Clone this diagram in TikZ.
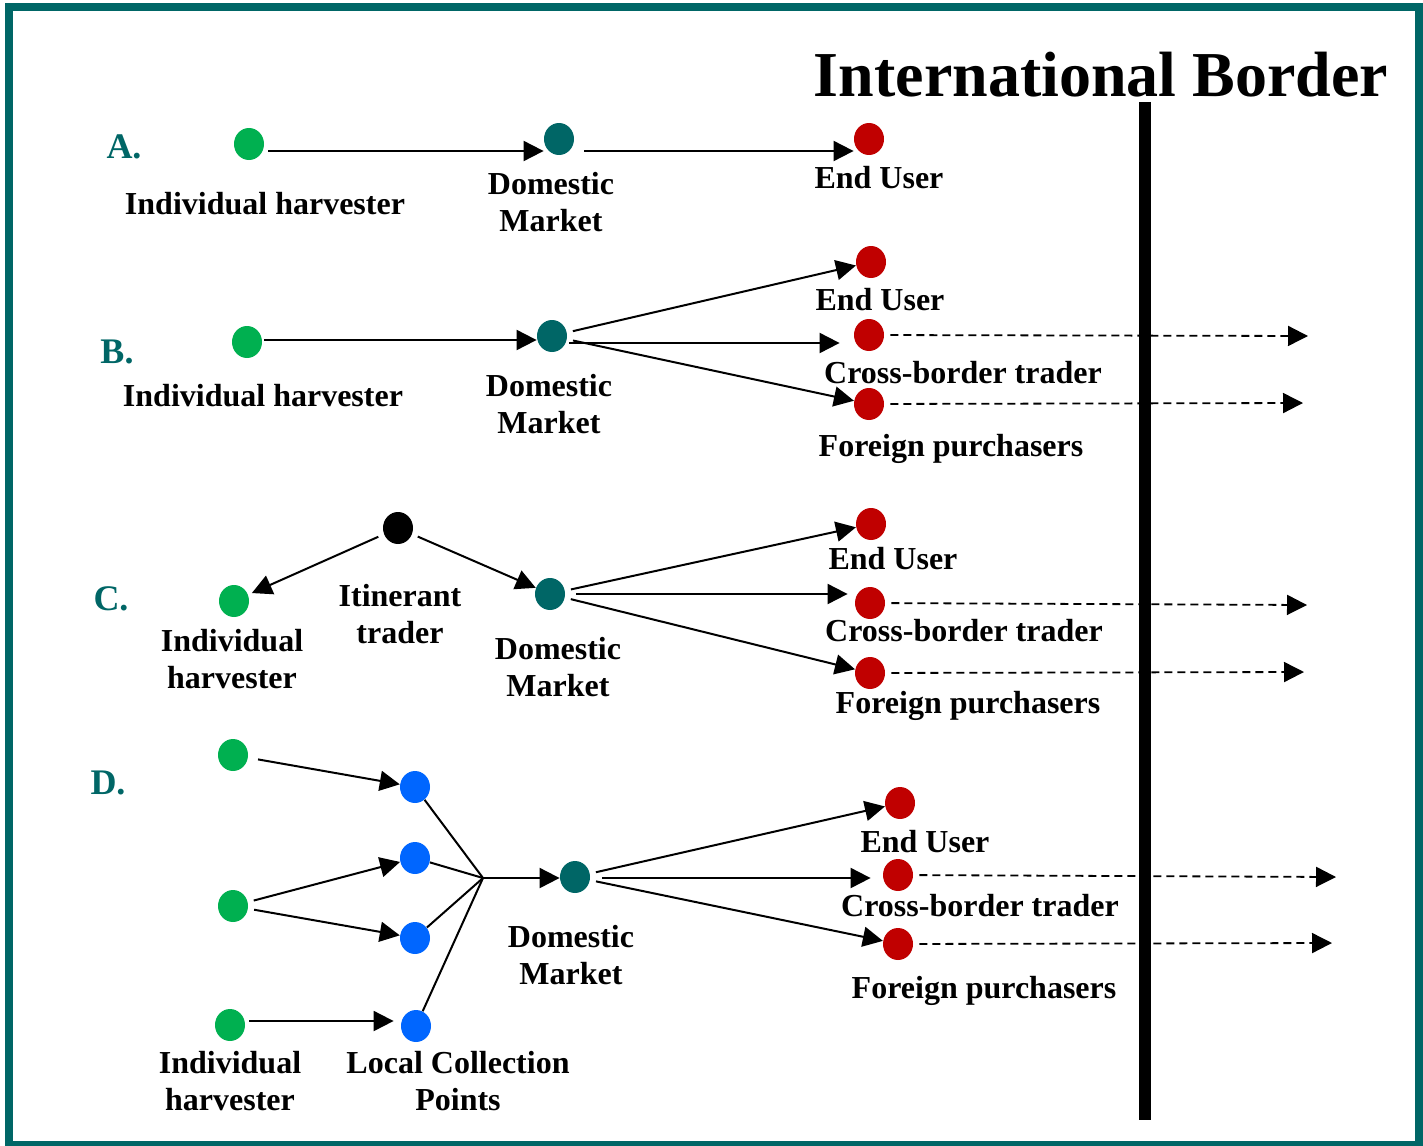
\documentclass[tikz,border=0pt]{standalone}
\usepackage{fontspec}
\setmainfont{Liberation Serif}
\usepackage{xcolor}
\usetikzlibrary{shapes,arrows.meta,positioning,calc}

\definecolor{harvgreen}{RGB}{0,176,80}
\definecolor{mktteal}{RGB}{0,102,102}
\definecolor{userred}{RGB}{192,0,0}
\definecolor{lcpblue}{RGB}{0,102,255}

\begin{document}
\begin{tikzpicture}[x=0.5pt, y=-0.5pt,
        spot/.style={ellipse, inner sep=0pt, minimum width=15pt, minimum height=16pt},
        harv/.style={spot, fill=harvgreen},
        mkt/.style={spot, fill=mktteal},
        usr/.style={spot, fill=userred},
        lcp/.style={spot, fill=lcpblue},
        itin/.style={spot, fill=black},
        lbl/.style={font=\fontsize{16}{18.5}\selectfont\bfseries, align=center, inner sep=0pt},
        rowtag/.style={lbl, font=\fontsize{18}{20}\selectfont\bfseries, text=mktteal},
        flow/.style={->, line width=1pt, shorten <=3pt},
        export/.style={->, line width=0.9pt, dash pattern=on 4pt off 2.5pt, shorten <=3pt},
        >={Triangle[length=10pt, width=10pt]}
    ]
        \useasboundingbox (0,0) rectangle (1423,1145);
        \draw [mktteal, line width=4pt] (8.5,7) rectangle (1419,1145);

        % border
        \node [lbl, font=\fontsize{32}{36}\selectfont\bfseries] (title) at (1101,75) {International Border};
        \draw [line width=6pt] (1145,102) -- (1145,1120);

        % A
        \node [rowtag] (tagA) at (124,147) {A.};
        \node [harv] (hA) at (249,144) {};
        \node [mkt] (dA) at (559,139) {};
        \node [usr] (uA) at (869,139) {};
        \node [lbl] (hAl) at (265,204) {Individual harvester};
        \node [lbl] (dAl) at (551,202) {Domestic\\Market};
        \node [lbl] (uAl) at (879,178) {End User};
        \draw [flow] ([xshift=-1pt, yshift=-3.5pt]hA.east) -- ([yshift=-6pt]dA.west);
        \draw [flow] ([xshift=2pt, yshift=-6pt]dA.east) -- ([yshift=-6pt]uA.west);

        % B
        \node [rowtag] (tagB) at (117,352) {B.};
        \node [harv] (hB) at (247,342) {};
        \node [mkt] (dB) at (552,336) {};
        \node [usr] (uB) at (871,262) {};
        \node [usr] (cB) at (869,335) {};
        \node [usr] (fB) at (869,404) {};
        \coordinate (xcB) at (1308,336);
        \coordinate (xfB) at (1303,403);
        \node [lbl] (hBl) at (263,396) {Individual harvester};
        \node [lbl] (dBl) at (549,404) {Domestic\\Market};
        \node [lbl] (uBl) at (880,300) {End User};
        \node [lbl] (cBl) at (963,373) {Cross-border trader};
        \node [lbl] (fBl) at (951,449) {Foreign purchasers};
        \draw [flow] ([xshift=-2pt, yshift=1pt]hB.east) -- ([yshift=-2pt]dB.west);
        \draw [flow] (dB) -- (uB);
        \draw [flow] ([xshift=-2pt, yshift=-3.5pt]dB.east) -- ([xshift=-7pt, yshift=-4pt]cB.west);
        \draw [flow] (dB) -- (fB);
        \draw [export] (cB) -- (xcB);
        \draw [export] (fB) -- (xfB);

        % C
        \node [rowtag] (tagC) at (111,599) {C.};
        \node [itin] (iC) at (398,528) {};
        \node [harv] (hC) at (234,601) {};
        \node [mkt] (dC) at (550,594) {};
        \node [usr] (uC) at (871,524) {};
        \node [usr] (cC) at (870,603) {};
        \node [usr] (fC) at (870,673) {};
        \coordinate (xcC) at (1307,605);
        \coordinate (xfC) at (1304,672);
        \node [lbl] (hCl) at (232,659) {Individual\\harvester};
        \node [lbl] (iCl) at (400,614) {Itinerant\\trader};
        \node [lbl] (dCl) at (558,667) {Domestic\\Market};
        \node [lbl] (uCl) at (893,559) {End User};
        \node [lbl] (cCl) at (964,631) {Cross-border trader};
        \node [lbl] (fCl) at (968,706) {Foreign purchasers};
        \draw [flow, shorten >=2pt] (iC) -- (hC);
        \draw [flow] (iC) -- (dC);
        \draw [flow] (dC) -- (uC);
        \draw [flow] ([xshift=2.5pt]dC.east) -- ([xshift=-3.5pt, yshift=4.5pt]cC.west);
        \draw [flow] (dC) -- (fC);
        \draw [export] (cC) -- (xcC);
        \draw [export] (fC) -- (xfC);

        % D
        \node [rowtag] (tagD) at (108,783) {D.};
        \node [harv] (h1) at (233,755) {};
        \node [harv] (h2) at (233,906) {};
        \node [harv] (h3) at (230,1025) {};
        \node [lcp] (p1) at (415,787) {};
        \node [lcp] (p2) at (415,858) {};
        \node [lcp] (p3) at (415,938) {};
        \node [lcp] (p4) at (416,1026) {};
        \coordinate (hub) at (483,878);
        \node [mkt] (dD) at (575,877) {};
        \node [usr] (uD) at (900,803) {};
        \node [usr] (cD) at (898,875) {};
        \node [usr] (fD) at (898,944) {};
        \coordinate (xcD) at (1336,877);
        \coordinate (xfD) at (1332,943);
        \node [lbl] (hDl) at (230,1081) {Individual\\harvester};
        \node [lbl] (pDl) at (458,1081) {Local Collection\\Points};
        \node [lbl] (dDl) at (571,955) {Domestic\\Market};
        \node [lbl] (uDl) at (925,842) {End User};
        \node [lbl] (cDl) at (980,906) {Cross-border trader};
        \node [lbl] (fDl) at (984,991) {Foreign purchasers};
        \draw [flow, shorten <=5pt] (h1) -- (p1);
        \draw [flow] (h2) -- (p2);
        \draw [flow] (h2) -- (p3);
        \draw [flow] ([xshift=-1pt, yshift=2pt]h3.east) -- ([xshift=-3.5pt, yshift=2.5pt]p4.west);
        \draw [line width=1pt] (p1) -- (hub);
        \draw [line width=1pt] (p2) -- (hub);
        \draw [line width=1pt] (p3) -- (hub);
        \draw [line width=1pt] (p4) -- (hub);
        \draw [flow, shorten <=0pt] (hub) -- ([yshift=-0.5pt]dD.west);
        \draw [flow] (dD) -- (uD);
        \draw [flow] ([xshift=3pt, yshift=-0.5pt]dD.east) -- ([xshift=-6pt, yshift=-1.5pt]cD.west);
        \draw [flow] (dD) -- (fD);
        \draw [export] (cD) -- (xcD);
        \draw [export] (fD) -- (xfD);

    \end{tikzpicture}
\end{document}
